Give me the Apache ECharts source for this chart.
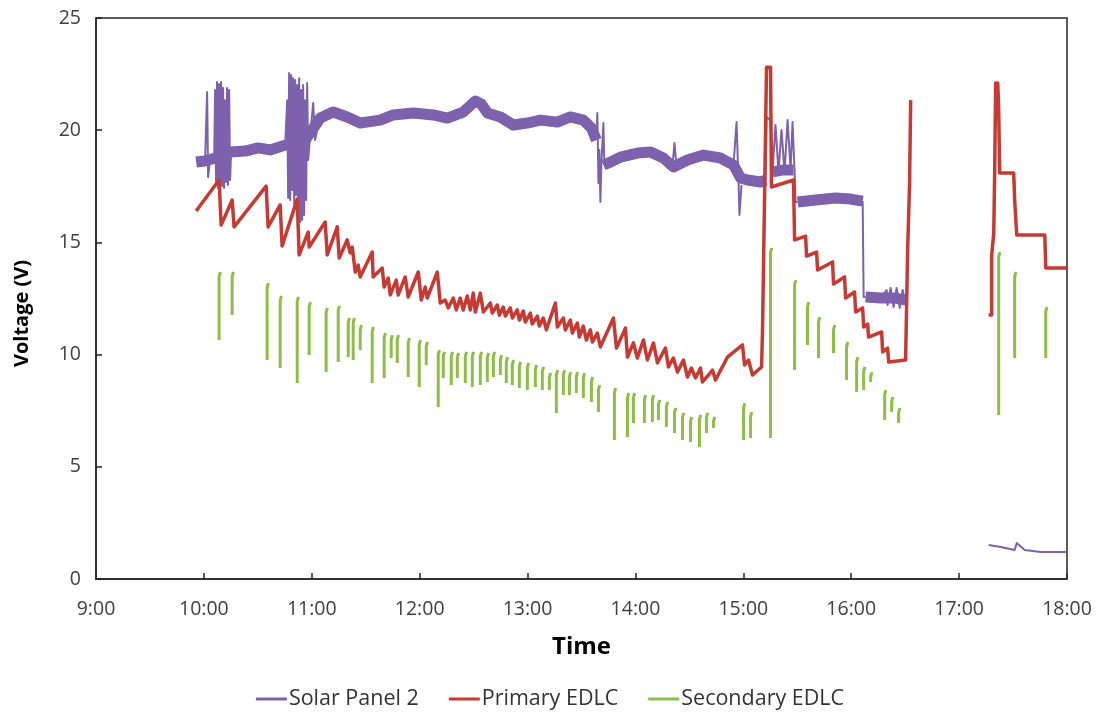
<!DOCTYPE html>
<html>
<head>
<meta charset="utf-8">
<script src="https://cdn.jsdelivr.net/npm/echarts@6/dist/echarts.min.js"></script>
<style>
  html, body { margin: 0; padding: 0; background: #fff; }
  #chart { width: 1100px; height: 713px; }
</style>
</head>
<body>
<div id="chart"></div>
<script>
// time in hours (9.5 = 9:30), voltage in V, null = gap in the record
const redT = [9.928,10.141,10.160,10.262,10.280,10.577,10.595,10.707,10.725,10.865,
  10.883,10.967,10.976,11.124,11.143,11.236,11.254,11.328,11.356,11.375,
  11.403,11.430,11.449,11.560,11.569,11.653,11.671,11.709,11.727,11.783,
  11.801,11.866,11.894,11.987,12.015,12.052,12.070,12.163,12.191,12.237,
  12.265,12.312,12.339,12.376,12.404,12.441,12.469,12.497,12.516,12.562,
  12.590,12.655,12.673,12.720,12.738,12.775,12.794,12.840,12.859,12.905,
  12.924,12.961,12.979,13.026,13.044,13.091,13.109,13.146,13.174,13.258,
  13.276,13.332,13.350,13.397,13.415,13.462,13.480,13.517,13.545,13.582,
  13.601,13.647,13.675,13.796,13.824,13.907,13.926,13.981,14.018,14.074,
  14.111,14.167,14.204,14.278,14.306,14.352,14.389,14.445,14.482,14.519,
  14.556,14.603,14.621,14.677,14.714,14.742,14.853,14.992,15.011,15.048,
  15.085,15.169,15.178,15.187,15.206,15.215,15.252,15.261,15.465,15.475,
  15.577,15.586,15.679,15.688,15.827,15.836,15.938,15.948,16.031,16.041,
  16.106,16.115,16.152,16.161,16.282,16.291,16.337,16.347,16.504,16.523,
  16.541,16.551,null,
  17.274,17.302,17.302,17.321,17.330,17.339,17.358,17.367,17.376,17.506,17.515,17.534,17.794,17.803,18.0]
const redV = [16.40,17.78,15.77,16.89,15.69,17.51,15.69,16.67,14.84,16.93,
  14.44,15.46,14.79,15.91,14.44,15.69,14.30,15.11,14.53,14.79,
  13.68,13.99,13.46,14.57,13.46,13.86,13.01,13.41,12.66,13.32,
  12.66,13.46,12.57,13.68,12.43,13.01,12.52,13.68,12.30,12.43,
  12.08,12.52,11.99,12.52,11.99,12.61,11.99,12.74,11.90,12.74,
  11.90,12.30,11.85,12.21,11.76,12.12,11.72,12.08,11.63,11.99,
  11.54,11.94,11.45,11.85,11.36,11.72,11.27,11.63,11.10,12.30,
  11.23,11.63,11.10,11.54,10.96,11.41,10.78,11.27,10.65,11.10,
  10.56,10.96,10.34,11.63,10.29,11.18,9.89,10.52,9.85,10.65,
  9.76,10.52,9.63,10.29,9.45,9.85,9.22,9.76,9.00,9.40,
  8.96,9.40,8.78,9.09,9.31,8.87,9.89,10.43,9.54,9.76,
  9.09,9.45,11.10,13.90,20.01,22.81,22.81,17.47,17.78,15.11,
  15.28,14.39,14.57,13.77,14.13,13.15,13.46,12.52,12.79,11.90,
  12.08,11.23,11.36,10.78,11.01,10.12,10.29,9.67,9.76,14.66,
  17.65,21.34,null,
  11.76,11.76,14.44,15.42,18.23,22.10,22.10,20.90,18.09,18.09,16.89,15.33,15.33,13.86,13.86]

// solar panel: the noisy band (drawn wide) ...
const solarBandT = [9.928,10.011,10.104,10.243,10.382,10.503,10.614,10.725,10.846,10.939,
  11.004,11.078,11.198,11.328,11.449,11.634,11.755,11.941,12.126,12.256,
  12.404,12.516,12.571,12.627,12.748,12.868,12.998,13.119,13.276,13.397,
  13.517,13.592,13.638,null,
  13.703,13.768,13.861,14.018,14.139,14.259,14.352,14.482,14.631,14.788,
  14.909,14.974,15.039,15.159,15.206,null,
  15.271,15.373,15.465,null,
  15.503,15.670,15.855,15.994,16.106,null,
  16.133,16.273,16.412,16.504]
const solarBandV = [18.58,18.63,18.76,19.03,19.07,19.21,19.12,19.29,19.47,19.56,
  20.01,20.54,20.81,20.59,20.32,20.45,20.68,20.77,20.68,20.54,
  20.81,21.30,21.17,20.77,20.59,20.23,20.32,20.45,20.36,20.59,
  20.45,20.10,19.56,null,
  18.45,18.58,18.80,18.98,19.03,18.76,18.36,18.67,18.89,18.76,
  18.45,17.87,17.78,17.69,17.78,null,
  18.14,18.23,18.23,null,
  16.80,16.89,16.98,16.93,16.84,null,
  12.57,12.52,12.52,12.43]

// ... and the sharp spikes / steps (drawn thin)
const solarSpikeT = [10.011,10.030,10.039,10.057,10.095,10.104,10.113,10.122,10.132,10.141,
  10.150,10.160,10.169,10.178,10.187,10.197,10.206,10.215,10.224,10.234,10.243,10.252,null,
  10.753,10.772,10.781,10.790,10.800,10.809,10.818,10.827,10.837,10.846,
  10.855,10.865,10.874,10.883,10.892,10.902,10.911,10.920,10.929,10.939,
  10.948,10.957,10.967,10.985,11.013,11.031,11.059,null,
  13.638,13.647,13.657,13.666,13.675,13.684,13.703,13.712,null,
  14.343,14.362,14.380,null,
  14.909,14.937,14.955,14.964,14.983,null,
  15.159,15.206,15.215,15.252,15.271,15.298,15.326,15.354,15.382,15.410,
  15.438,15.456,15.475,15.484,15.503,null,
  16.106,16.115,16.133,null,
  16.273,16.328,16.337,16.365,16.393,16.421,16.449,16.477,16.504,null,
  17.274,17.386,17.515,17.534,17.608,17.757,18.0]
const solarSpikeV = [18.63,21.70,17.91,18.67,18.67,21.79,17.56,22.15,17.42,22.06,
  17.33,22.15,17.51,21.88,17.42,21.34,17.69,21.88,17.56,21.79,17.78,19.03,null,
  19.29,21.34,16.98,22.55,16.89,22.46,17.33,22.32,16.67,22.24,
  17.11,22.01,16.44,22.32,15.91,21.79,16.00,22.01,16.22,21.34,
  16.89,22.10,18.67,19.78,21.21,19.56,20.23,null,
  19.56,20.77,17.65,19.12,16.80,18.45,20.32,18.45,null,
  18.40,19.43,18.40,null,
  18.45,20.36,17.78,16.22,17.56,null,
  17.69,17.78,20.59,20.45,18.14,20.23,18.14,20.01,18.14,20.45,
  18.23,20.36,18.14,16.80,16.80,null,
  16.84,12.57,12.57,null,
  12.52,12.88,12.21,12.97,12.12,12.97,12.08,12.88,12.21,null,
  1.52,1.43,1.29,1.60,1.29,1.20,1.20]

// secondary EDLC: short charging strokes, low -> high at one time
const greenT = [10.141,10.262,10.586,10.707,10.865,10.976,11.133,11.245,11.338,11.384,
  11.449,11.560,11.671,11.736,11.792,11.894,11.996,12.061,12.172,12.219,
  12.293,12.349,12.423,12.488,12.562,12.627,12.683,12.748,12.803,12.859,
  12.924,12.998,13.072,13.137,13.202,13.267,13.332,13.388,13.452,13.517,
  13.592,13.657,13.805,13.926,13.981,14.083,14.157,14.213,14.287,14.362,
  14.436,14.510,14.593,14.658,14.723,15.002,15.067,15.252,15.475,15.595,
  15.697,15.836,15.957,16.050,16.115,16.180,16.310,16.375,16.439,17.367,
  17.515,17.803]
const greenHigh = [13.68,13.68,13.19,12.61,12.57,12.34,12.08,12.17,11.63,11.63,
  11.32,11.23,10.96,10.87,10.87,10.74,10.65,10.56,10.20,10.12,
  10.12,10.07,10.12,10.12,10.12,10.07,10.12,9.98,9.89,9.76,
  9.67,9.63,9.54,9.45,9.18,9.31,9.31,9.22,9.22,9.18,
  9.00,8.64,8.51,8.29,8.29,8.20,8.20,7.98,7.89,7.62,
  7.40,7.22,7.31,7.40,7.22,7.84,7.44,14.75,13.32,12.34,
  11.67,11.32,10.56,9.89,9.45,9.22,8.42,8.11,7.62,14.57,
  13.68,12.12]
const greenLow = [10.65,11.76,9.76,9.40,8.73,9.98,9.22,9.67,9.89,9.76,
  10.20,8.73,8.96,9.85,9.63,9.00,8.56,9.54,7.66,8.96,
  8.64,8.96,8.73,8.56,8.64,8.78,9.00,9.09,8.73,8.64,
  8.51,8.42,8.56,8.42,8.42,7.40,8.20,8.20,8.29,8.07,
  7.89,7.44,6.19,6.33,6.95,6.95,7.00,7.09,6.77,6.51,
  6.19,6.10,5.88,6.51,6.73,6.19,6.28,6.28,9.31,10.43,
  9.85,10.07,8.87,8.33,8.42,8.78,7.09,7.44,6.95,7.31,
  9.85,9.85]

const PURPLE = '#7d61ac'
const RED = '#c63a33'
const GREEN = '#8dbf44'
const AXIS = '#262626'

const pairs = (ts, vs) => ts.map((t, i) => (t === null ? ['-', '-'] : [t, vs[i]]))

// each stroke gets the small hook seen at its top
const greenData = []
greenT.forEach((t, i) => {
  greenData.push([t, greenLow[i]], [t, greenHigh[i] - 0.2], [t + 0.012, greenHigh[i]], ['-', '-'])
})

const baseLine = (name, color, width, data) => ({
  name: name,
  type: 'line',
  data: data,
  showSymbol: false,
  symbol: 'none',
  connectNulls: false,
  silent: true,
  itemStyle: { color: color },
  lineStyle: { color: color, width: width, join: 'round', cap: 'butt' }
})

const chart = echarts.init(document.getElementById('chart'))
chart.setOption({
  animation: false,
  textStyle: { fontFamily: 'Open Sans' },
  grid: {
    left: 96,
    right: 33,
    top: 18,
    bottom: 134,
    show: true,
    borderColor: AXIS,
    borderWidth: 1.5
  },
  legend: {
    top: 683,
    left: 'center',
    icon: 'rect',
    itemWidth: 31,
    itemHeight: 3,
    itemGap: 30,
    textStyle: { fontSize: 21.5, color: '#333', padding: [0, 0, 0, -3] },
    data: ['Solar Panel 2', 'Primary EDLC', 'Secondary EDLC']
  },
  xAxis: {
    type: 'value',
    min: 9,
    max: 18,
    interval: 1,
    name: 'Time',
    nameLocation: 'middle',
    nameGap: 56,
    nameTextStyle: { fontSize: 24, fontWeight: 'bold', color: '#000' },
    axisLine: { lineStyle: { color: AXIS, width: 1.5 } },
    axisTick: { inside: true, length: 6, lineStyle: { color: AXIS, width: 1.5 } },
    axisLabel: { formatter: v => v + ':00', fontSize: 19.5, color: '#404040', margin: 20 },
    splitLine: { show: false }
  },
  yAxis: {
    type: 'value',
    min: 0,
    max: 25,
    interval: 5,
    name: 'Voltage (V)',
    nameLocation: 'middle',
    nameGap: 64,
    nameTextStyle: { fontSize: 20, fontWeight: 'bold', color: '#000', padding: [0, 30, 0, 0] },
    axisLine: { show: true, lineStyle: { color: AXIS, width: 1.5 } },
    axisTick: { show: true, inside: true, length: 6, lineStyle: { color: AXIS, width: 1.5 } },
    axisLabel: { fontSize: 19.5, color: '#404040', margin: 15 },
    splitLine: { show: false }
  },
  series: [
    baseLine('Solar Panel 2', PURPLE, 11, pairs(solarBandT, solarBandV)),
    baseLine('Solar Panel 2', PURPLE, 2, pairs(solarSpikeT, solarSpikeV)),
    baseLine('Primary EDLC', RED, 3.5, pairs(redT, redV)),
    baseLine('Secondary EDLC', GREEN, 3, greenData)
  ]
})
</script>
</body>
</html>
